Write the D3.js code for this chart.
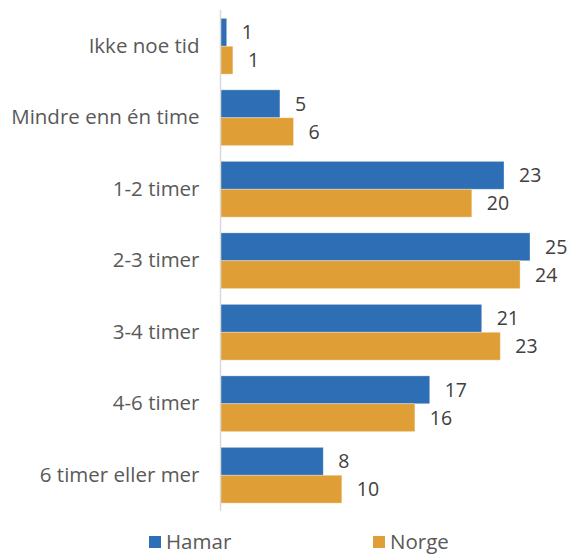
<!DOCTYPE html>
<html>
<head>
<meta charset="utf-8">
<script src="https://cdn.jsdelivr.net/npm/d3@7"></script>
<style>
  body { margin: 0; background: #fff; }
  text { font-family: "Open Sans", sans-serif; }
</style>
</head>
<body>
<svg width="571" height="554"></svg>
<script>
var categories = ["Ikke noe tid", "Mindre enn én time", "1-2 timer", "2-3 timer", "3-4 timer", "4-6 timer", "6 timer eller mer"];
var seriesNames = ["Hamar", "Norge"];
var hamar = [0.5, 4.8, 22.9, 25.0, 21.1, 16.9, 8.3];
var norge = [1.0, 5.9, 20.3, 24.2, 22.6, 15.7, 9.8];
var colors = ["#2e6eb5", "#e09f36"];

var svg = d3.select("svg");

var x = d3.scaleLinear().domain([0, 25]).range([220.5, 530]);
var y = d3.scaleBand().domain(categories).range([10.5, 511]).paddingInner(0.22).paddingOuter(0.11);
var sub = d3.scaleBand().domain(seriesNames).range([0, y.bandwidth()]);

var rows = categories.map(function(c, i) {
  return {cat: c, vals: [{s: "Hamar", v: hamar[i]}, {s: "Norge", v: norge[i]}]};
});

var g = svg.selectAll(".cat").data(rows).enter().append("g")
  .attr("class", "cat")
  .attr("transform", function(d) { return "translate(0," + y(d.cat) + ")"; });

g.selectAll("rect").data(function(d) { return d.vals; }).enter().append("rect")
  .attr("x", x(0))
  .attr("y", function(d) { return sub(d.s); })
  .attr("width", function(d) { return x(d.v) - x(0); })
  .attr("height", sub.bandwidth())
  .attr("fill", function(d, i) { return colors[i]; })
  .attr("stroke", "#fff")
  .attr("stroke-opacity", 0.4)
  .attr("stroke-width", 0.8);

g.selectAll(".lbl").data(function(d) { return d.vals; }).enter().append("text")
  .attr("class", "lbl")
  .attr("x", function(d) { return x(d.v) + 15; })
  .attr("y", function(d) { return sub(d.s) + sub.bandwidth() / 2; })
  .attr("dy", "0.36em")
  .attr("font-size", 19.5)
  .attr("fill", "#404040")
  .text(function(d) { return d3.format(".0f")(d.v); });

// category axis
var yAxis = svg.append("g")
  .attr("transform", "translate(" + x(0) + ",0)")
  .call(d3.axisLeft(y).tickSize(0).tickPadding(21));
yAxis.select(".domain").attr("stroke", "#d9d9d9").attr("stroke-width", 1.5)
  .attr("d", "M0,10V511");
yAxis.selectAll(".tick text")
  .attr("font-size", 20.5)
  .attr("fill", "#595959")
  .style("font-family", "'Open Sans', sans-serif");

// legend
var legendX = [149, 373];
var leg = svg.selectAll(".leg").data(seriesNames).enter().append("g")
  .attr("class", "leg")
  .attr("transform", function(d, i) { return "translate(" + legendX[i] + ",536)"; });
leg.append("rect").attr("width", 12).attr("height", 12)
  .attr("fill", function(d, i) { return colors[i]; });
leg.append("text").attr("x", 17).attr("y", 6).attr("dy", "0.36em")
  .attr("font-size", 20.5).attr("fill", "#595959")
  .text(function(d) { return d; });
</script>
</body>
</html>
